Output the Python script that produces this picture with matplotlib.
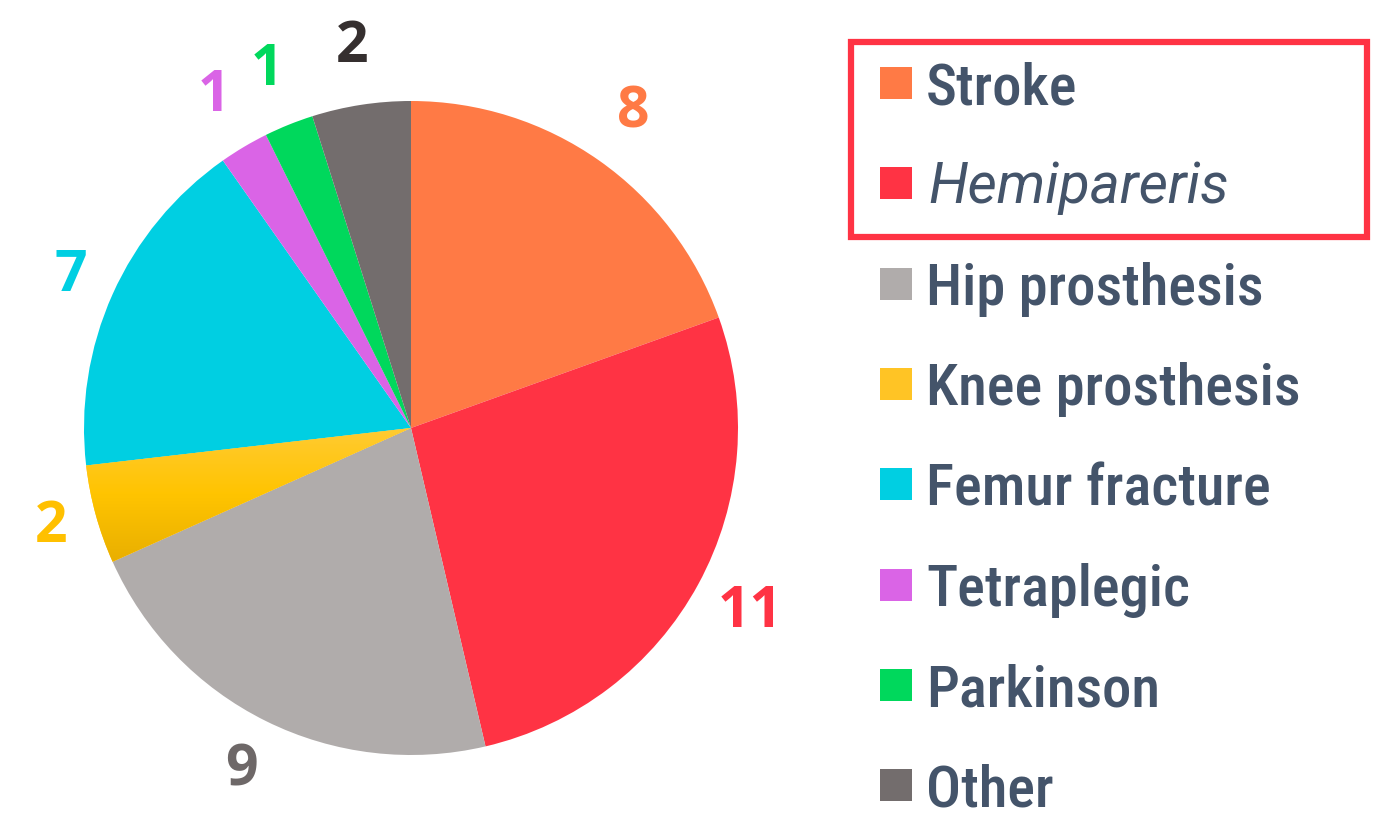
import numpy as np
import matplotlib
matplotlib.use("Agg")
import matplotlib.pyplot as plt
from matplotlib.patches import Rectangle

# data
categories = ["Stroke", "Hemipareris", "Hip prosthesis", "Knee prosthesis",
              "Femur fracture", "Tetraplegic", "Parkinson", "Other"]
counts = [8, 11, 9, 2, 7, 1, 1, 2]
colors = ["#FF7A45", "#FF3344", "#B0ACAB", "#FFC425",
          "#00CFE2", "#DA64E6", "#00D85C", "#736D6D"]
label_colors = ["#FF7A45", "#FF3344", "#6E6868", "#FFC000",
                "#00CFE2", "#DA64E6", "#00D85C", "#352F2F"]

W, H = 1395, 838
fig = plt.figure(figsize=(W / 100, H / 100), dpi=100)

# pie centre (411, 428) px, radius 327 px
cx, cy, R = 411, 428, 327
ax = fig.add_axes([(cx - R) / W, (H - cy - R) / H, 2 * R / W, 2 * R / H])
wedges, texts = ax.pie(counts, colors=colors, startangle=90, counterclock=False,
                       labels=[str(c) for c in counts], labeldistance=1.18,
                       wedgeprops=dict(linewidth=0),
                       textprops=dict(fontsize=41, fontweight="bold",
                                      family=["Open Sans", "DejaVu Sans"]))
# a few labels sit a little closer to the pie
dist = [1.18, 1.18, 1.17, 1.14, 1.14, 1.18, 1.18, 1.18]
for t, c, w, d in zip(texts, label_colors, wedges, dist):
    ang = np.deg2rad((w.theta1 + w.theta2) / 2)
    t.set_position((d * np.cos(ang), d * np.sin(ang)))
    t.set_color(c)
    t.set_ha("center")
    t.set_va("center")
    t.set_clip_on(False)

# yellow gradient on the knee slice
knee = wedges[3]
grad = np.linspace(0, 1, 256).reshape(-1, 1)
cmap = matplotlib.colors.LinearSegmentedColormap.from_list("knee", ["#FFCB35", "#FFC400", "#E8AE00"])
im = ax.imshow(grad, cmap=cmap, extent=[-1.01, 0.01, -0.42, 0.01], origin="upper",
               aspect="auto", zorder=knee.get_zorder() + 0.1)
im.set_clip_path(knee)
ax.set_xlim(-1, 1)
ax.set_ylim(-1, 1)
ax.set_aspect("equal")
ax.axis("off")

# legend
text_color = "#44546A"
y0, step = 83, 100.3
for i, (name, col) in enumerate(zip(categories, colors)):
    y = y0 + i * step
    fig.patches.append(Rectangle((880 / W, 1 - (y + 16) / H), 32 / W, 32 / H,
                                 transform=fig.transFigure, facecolor=col,
                                 edgecolor="none"))
    if name == "Hemipareris":
        fig.text(928 / W, 1 - (y - 2) / H, name, fontsize=41, color=text_color,
                 family=["Roboto", "DejaVu Sans"], style="italic",
                 ha="left", va="center_baseline")
    else:
        fig.text(926 / W, 1 - y / H, name, fontsize=42, color=text_color,
                 family=["Roboto Condensed", "Roboto", "DejaVu Sans"],
                 fontweight="medium", ha="left", va="center_baseline")

# highlight box round the first two entries
fig.patches.append(Rectangle((851 / W, 1 - 237 / H), 516 / W, 195 / H,
                             transform=fig.transFigure, facecolor="none",
                             edgecolor="#FF3344", linewidth=4.5))

fig.savefig("out.png", dpi=100, facecolor="white")
